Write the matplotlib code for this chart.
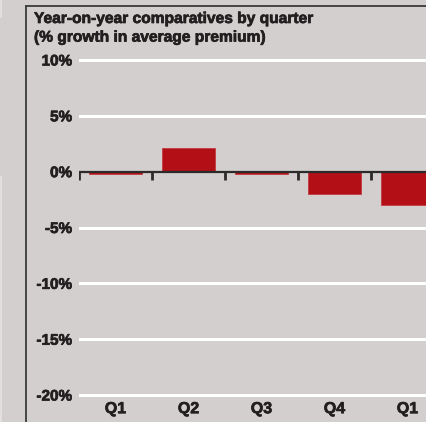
import matplotlib.pyplot as plt
import matplotlib.patheffects as pe
from matplotlib.lines import Line2D

quarters = ["Q1", "Q2", "Q3", "Q4", "Q1"]
growth = [-0.25, 2.1, -0.25, -2.0, -3.0]
y_ticks = [10, 5, 0, -5, -10, -15, -20]
title = "Year-on-year comparatives by quarter\n(% growth in average premium)"

bg = "#d3cfce"
ink = "#231f20"
bar_red = "#b20f17"

plt.rcParams["font.family"] = ["Liberation Sans", "DejaVu Sans"]
plt.rcParams["font.weight"] = "bold"

W, H = 427, 422
fig = plt.figure(figsize=(W / 100, H / 100), dpi=100, facecolor=bg)

def fx(px):
    return px / W

def fy(py):
    return 1 - py / H

# slightly heavier strokes for the bold labels
heavy = [pe.withStroke(linewidth=0.5, foreground=ink)]

# plot area: -0.5 .. 4.27 categories, -20.3 .. 10.3 percent
ax = fig.add_axes([fx(79), fy(398.4), fx(427 - 79), fy(56.6) - fy(398.4)])
ax.set_facecolor(bg)
ax.set_xlim(-0.5, 4.267)
ax.set_ylim(-20.3, 10.3)
for s in ax.spines.values():
    s.set_visible(False)

# white gridlines
for v in y_ticks:
    if v != 0:
        ax.axhline(v, color="white", lw=2.2, zorder=1)

x = list(range(len(quarters)))
ax.bar(x, growth, width=0.73, color=bar_red, edgecolor="#c23a40", linewidth=0.6, zorder=2)

# zero line with downward category separators
ax.axhline(0, color="#2b2b2b", lw=1.6, zorder=3)
ax.vlines([i - 0.5 for i in range(len(quarters))], -0.75, 0, color="#2b2b2b", lw=2, zorder=3)

ax.set_yticks(y_ticks)
ax.set_yticklabels([f"{v}%" for v in y_ticks])
ax.set_xticks(x)
ax.set_xticklabels(quarters)
ax.tick_params(axis="both", length=0, labelsize=11, labelcolor=ink)
ax.tick_params(axis="y", pad=5)
ax.tick_params(axis="x", pad=2, labelsize=11.5)
for lab in ax.get_xticklabels() + ax.get_yticklabels():
    lab.set_path_effects(heavy)

fig.text(fx(34), fy(11), title, ha="left", va="top", fontsize=11.2,
         fontweight="bold", color=ink, linespacing=1.3, path_effects=heavy)

# panel frame
fig.add_artist(Line2D([fx(26), fx(26)], [fy(6), 0], color="#3a3a3a", lw=1.3))
fig.add_artist(Line2D([fx(26), 1], [fy(6), fy(6)], color="#3a3a3a", lw=1.3))
# neighbouring panel edge
fig.add_artist(Line2D([fx(1), fx(1)], [fy(177), 0], color="#e6e4e3", lw=1.2))
fig.add_artist(Line2D([fx(1), fx(1)], [1, fy(17)], color="#e6e4e3", lw=1.2))

fig.savefig("out.png", dpi=100, facecolor=bg)
